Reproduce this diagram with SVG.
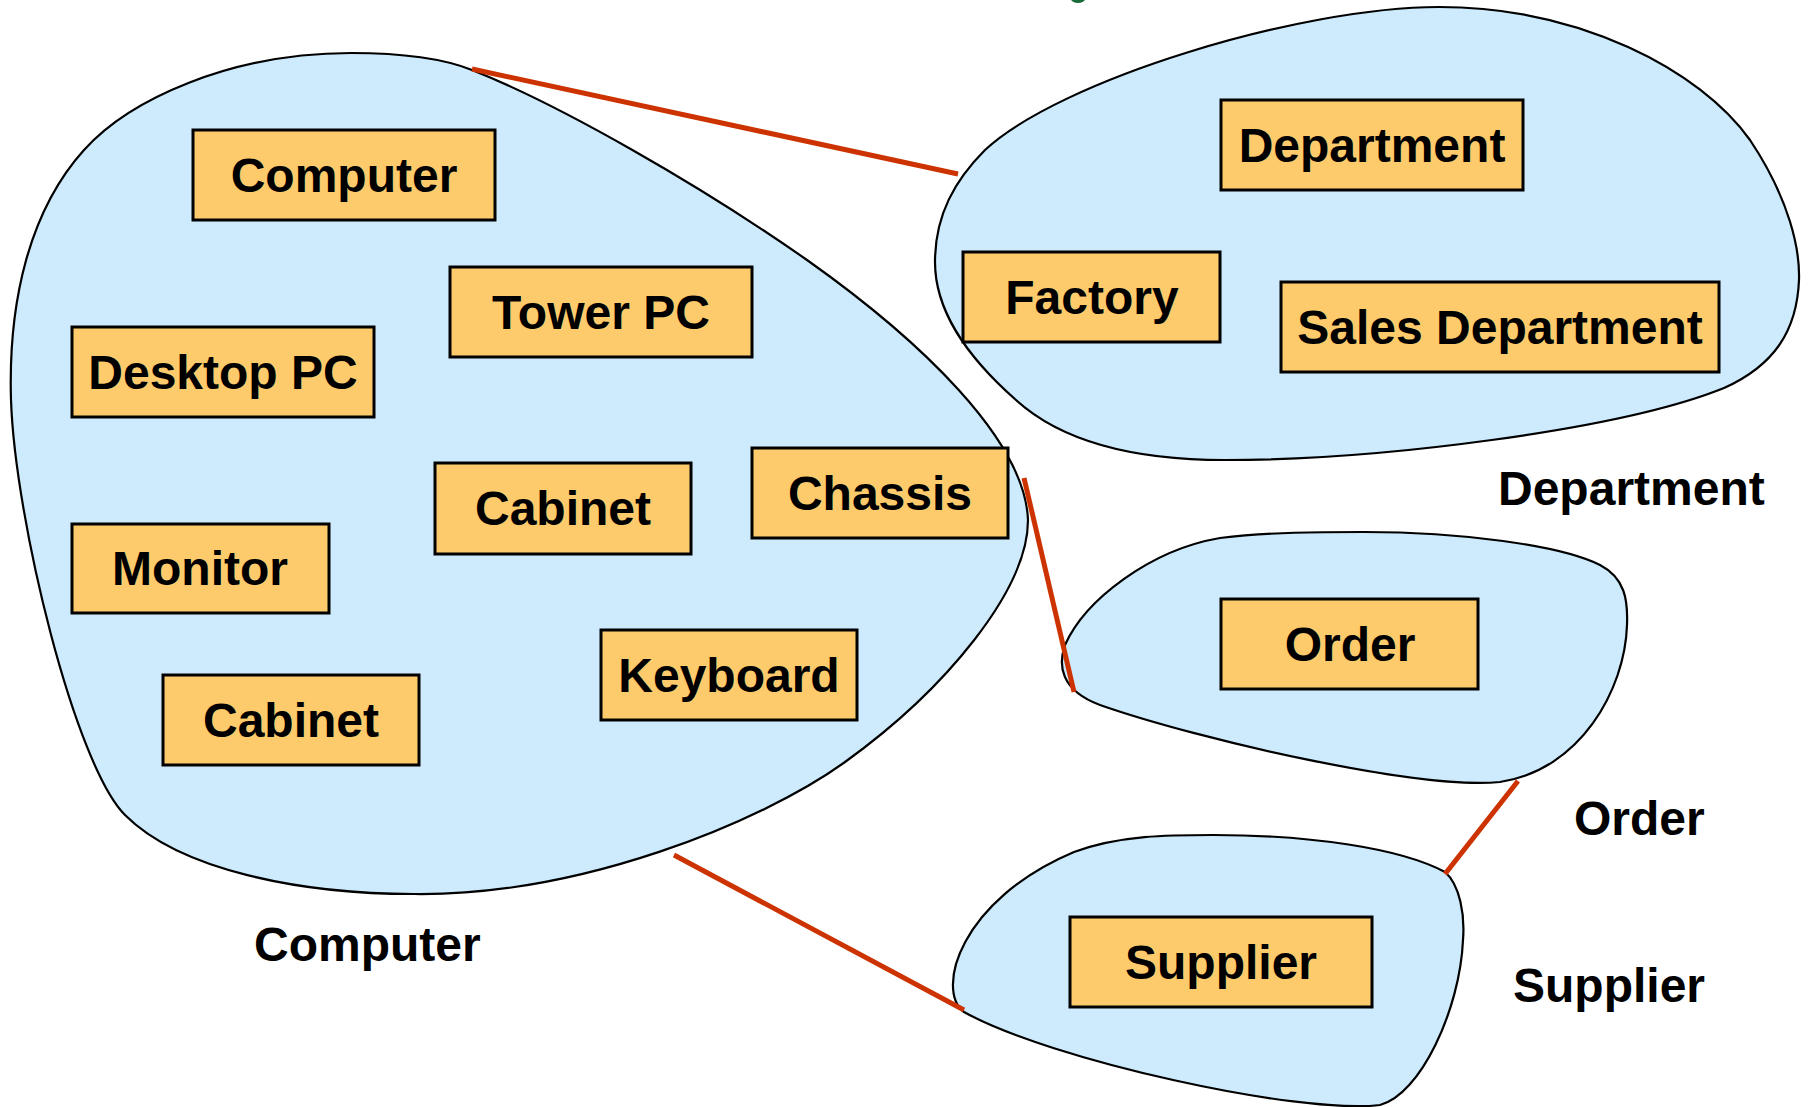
<svg xmlns="http://www.w3.org/2000/svg" width="1809" height="1107" viewBox="0 0 1809 1107">
  <style>
    .blob { fill: #cdebfd; stroke: #000; stroke-width: 2.2; }
    .box { fill: #fdcb6b; stroke: #000; stroke-width: 3; }
    .t { font-family: "Liberation Sans", Arial, sans-serif; font-weight: bold; font-size: 48px; fill: #000; text-anchor: middle; }
    .lbl { font-family: "Liberation Sans", Arial, sans-serif; font-weight: bold; font-size: 48px; fill: #000; }
    .link { stroke: #cc3300; stroke-width: 5; fill: none; }
  </style>
  <rect width="1809" height="1107" fill="#fff"/>
  <ellipse cx="1078" cy="-1" rx="7" ry="4" fill="#1a6b3a"/>

  <g id="blob-computer">
    <path class="blob" d="M 351,53 C 390,53 437,56 472,70 C 560,105 700,185 807,260 C 920,340 1025,440 1028,520 C 1028,590 945,690 845,762 C 760,823 580,896 414,894 C 300,894 180,870 125,815 C 75,765 15,520 11,400 C 8,300 30,210 84,150 C 129,100 230,53 351,53 Z"/>
    <text class="lbl" x="254" y="961">Computer</text>
  </g>
  <g id="blob-department">
    <path class="blob" d="M 1439,7 C 1580,7 1700,70 1750,140 C 1790,200 1800,250 1799,280 C 1797,330 1775,365 1724,388 C 1620,430 1380,460 1225,460 C 1130,460 1060,440 1016,400 C 965,355 935,310 935,262 C 935,215 955,180 985,150 C 1060,80 1300,7 1439,7 Z"/>
    <text class="lbl" x="1498" y="505">Department</text>
  </g>
  <g id="blob-order">
    <path class="blob" d="M 1364,532 C 1460,532 1560,545 1600,565 C 1625,578 1628,600 1627,625 C 1625,690 1580,770 1500,782 C 1420,790 1200,740 1100,705 C 1060,690 1058,665 1065,645 C 1085,600 1150,550 1220,538 C 1270,532 1320,532 1364,532 Z"/>
    <text class="lbl" x="1574" y="835">Order</text>
  </g>
  <g id="blob-supplier">
    <path class="blob" d="M 1213,835 C 1310,835 1400,848 1445,872 C 1460,885 1465,915 1463,940 C 1460,1010 1420,1095 1380,1105 C 1300,1115 1050,1060 964,1012 C 935,990 960,900 1074,852 C 1120,835 1170,835 1213,835 Z"/>
    <text class="lbl" x="1513" y="1002">Supplier</text>
  </g>

  <g id="connectors">
    <line class="link" x1="472" y1="69" x2="958" y2="174"/>
    <line class="link" x1="1024" y1="478" x2="1074" y2="692"/>
    <line class="link" x1="1518" y1="781" x2="1445" y2="874"/>
    <line class="link" x1="674" y1="855" x2="964" y2="1010"/>
  </g>

  <g id="node-computer"><rect class="box" x="193" y="130" width="302" height="90"/><text class="t" x="344" y="192">Computer</text></g>
  <g id="node-towerpc"><rect class="box" x="450" y="267" width="302" height="90"/><text class="t" x="601" y="329">Tower PC</text></g>
  <g id="node-desktoppc"><rect class="box" x="72" y="327" width="302" height="90"/><text class="t" x="223" y="389">Desktop PC</text></g>
  <g id="node-cabinet1"><rect class="box" x="435" y="463" width="256" height="91"/><text class="t" x="563" y="525">Cabinet</text></g>
  <g id="node-chassis"><rect class="box" x="752" y="448" width="256" height="90"/><text class="t" x="880" y="510">Chassis</text></g>
  <g id="node-monitor"><rect class="box" x="72" y="524" width="257" height="89"/><text class="t" x="200" y="585">Monitor</text></g>
  <g id="node-keyboard"><rect class="box" x="601" y="630" width="256" height="90"/><text class="t" x="729" y="692">Keyboard</text></g>
  <g id="node-cabinet2"><rect class="box" x="163" y="675" width="256" height="90"/><text class="t" x="291" y="737">Cabinet</text></g>
  <g id="node-department"><rect class="box" x="1221" y="100" width="302" height="90"/><text class="t" x="1372" y="162">Department</text></g>
  <g id="node-factory"><rect class="box" x="963" y="252" width="257" height="90"/><text class="t" x="1092" y="314">Factory</text></g>
  <g id="node-salesdept"><rect class="box" x="1281" y="282" width="438" height="90"/><text class="t" x="1500" y="344">Sales Department</text></g>
  <g id="node-order"><rect class="box" x="1221" y="599" width="257" height="90"/><text class="t" x="1350" y="661">Order</text></g>
  <g id="node-supplier"><rect class="box" x="1070" y="917" width="302" height="90"/><text class="t" x="1221" y="979">Supplier</text></g>
</svg>
